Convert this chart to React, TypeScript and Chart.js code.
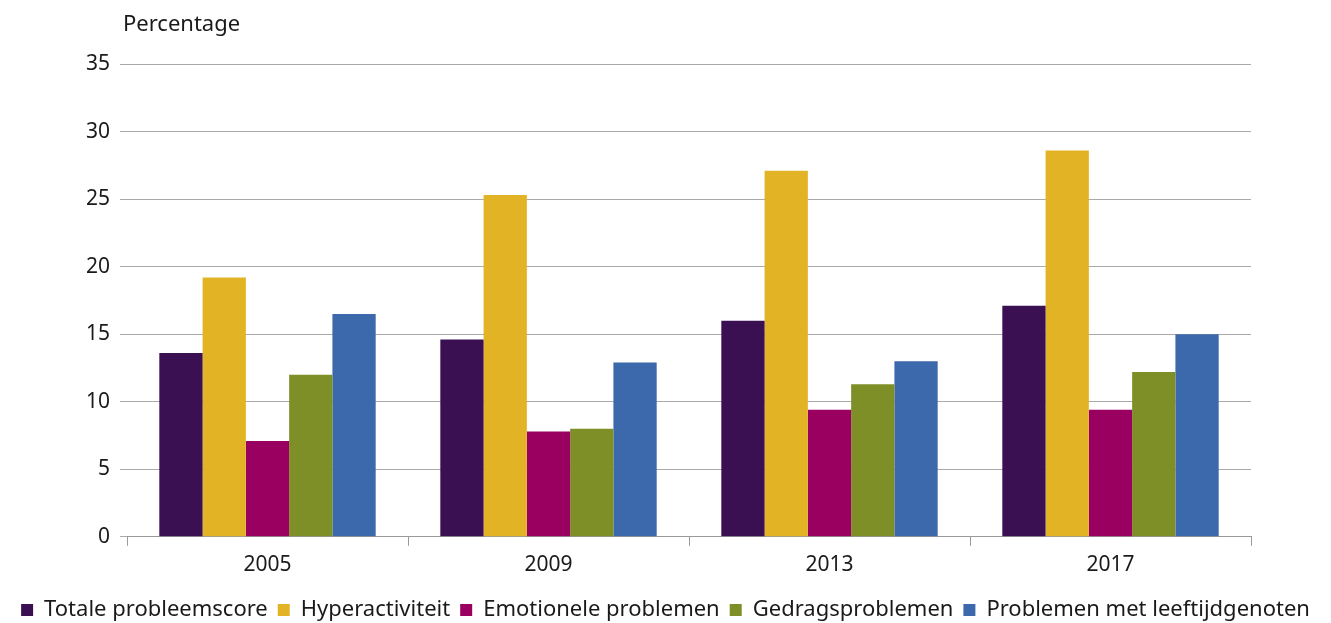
import React, { useEffect, useRef } from "react";
import { Chart, registerables } from "chart.js";

Chart.register(...registerables);

const categories = ["2005", "2009", "2013", "2017"];
const totaleProbleemscore = [13.6, 14.6, 16.0, 17.1];
const hyperactiviteit = [19.2, 25.3, 27.1, 28.6];
const emotioneleProblemen = [7.1, 7.8, 9.4, 9.4];
const gedragsproblemen = [12.0, 8.0, 11.3, 12.2];
const leeftijdgenoten = [16.5, 12.9, 13.0, 15.0];
const yTicks = [0, 5, 10, 15, 20, 25, 30, 35];

const FONT = "'Noto Sans', sans-serif";

export default function App() {
  const ref = useRef<HTMLCanvasElement | null>(null);
  useEffect(() => {
    document.body.style.margin = "0";
    const titlePlugin = {
      id: "ytitle",
      afterLayout(chart: any) {
        if (chart.legend) {
          chart.legend.top += 4;
          chart.legend.bottom += 4;
        }
      },
      afterDraw(chart: any) {
        const ctx = chart.ctx;
        ctx.save();
        ctx.font = `22px ${FONT}`;
        ctx.fillStyle = "#1a1a1a";
        ctx.textBaseline = "middle";
        ctx.textAlign = "left";
        ctx.fillText("Percentage", chart.chartArea.left - 4, 25);
        ctx.restore();
      },
    };
    const chart = new Chart(ref.current!, {
      type: "bar",
      data: {
        labels: categories,
        datasets: [
          { label: "Totale probleemscore", data: totaleProbleemscore, backgroundColor: "#3b1053" },
          { label: "Hyperactiviteit", data: hyperactiviteit, backgroundColor: "#e2b425" },
          { label: "Emotionele problemen", data: emotioneleProblemen, backgroundColor: "#990060" },
          { label: "Gedragsproblemen", data: gedragsproblemen, backgroundColor: "#7f8f28" },
          { label: "Problemen met leeftijdgenoten", data: leeftijdgenoten, backgroundColor: "#3c69ac" },
        ],
      },
      options: {
        responsive: false,
        animation: false,
        layout: { padding: { top: 64, left: 0, right: 0, bottom: -4 } },
        datasets: { bar: { categoryPercentage: 0.77, barPercentage: 1 } },
        scales: {
          x: {
            grid: { display: true, drawOnChartArea: false, tickLength: 9, color: "#999", offset: true },
            border: { display: true, color: "#999" },
            ticks: { color: "#1a1a1a", font: { family: FONT, size: 21 }, padding: 7 },
          },
          y: {
            min: 0,
            max: 35,
            afterBuildTicks(axis: any) {
              axis.ticks = yTicks.map((v) => ({ value: v }));
            },
            afterFit(axis: any) {
              axis.width = 127;
            },
            grid: { color: "#aaa", tickLength: 7 },
            border: { display: false },
            ticks: { color: "#1a1a1a", font: { family: FONT, size: 21 }, padding: 10 },
          },
          spacer: {
            type: "linear",
            position: "right",
            display: true,
            grid: { display: false },
            border: { display: false },
            ticks: { display: false },
            afterFit(axis: any) {
              axis.width = 80;
            },
          },
        },
        plugins: {
          tooltip: { enabled: false },
          legend: {
            position: "bottom",
            labels: {
              color: "#1a1a1a",
              font: { family: FONT, size: 22 },
              boxWidth: 12,
              boxHeight: 12,
              padding: 10,
            },
          },
        },
      },
      plugins: [titlePlugin],
    });
    return () => chart.destroy();
  }, []);
  return <canvas ref={ref} width={1331} height={623} style={{ display: "block" }} />;
}
